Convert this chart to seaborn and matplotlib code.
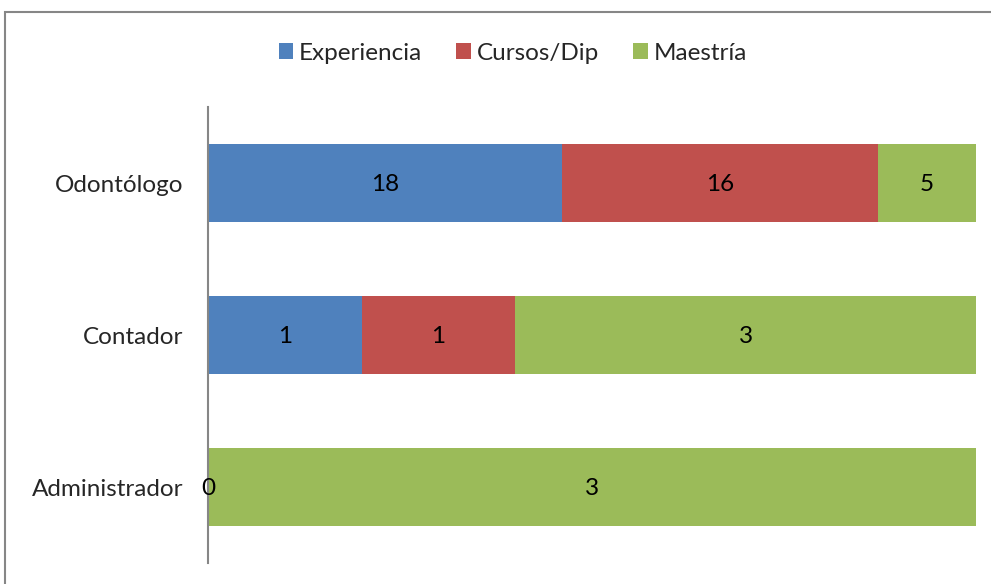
import numpy as np
import pandas as pd
import seaborn as sns
import matplotlib.pyplot as plt
from matplotlib.patches import Patch, Rectangle

categories = ["Odontólogo", "Contador", "Administrador"]
series_names = ["Experiencia", "Cursos/Dip", "Maestría"]
experiencia = [18, 1, 0]
cursos = [16, 1, 0]
maestria = [5, 3, 3]
colors = ["#4F81BD", "#C0504D", "#9BBB59"]

df = pd.DataFrame(
    {"puesto": categories, "Experiencia": experiencia, "Cursos/Dip": cursos, "Maestría": maestria}
)
totals = df[series_names].sum(axis=1)
shares = df[series_names].div(totals, axis=0)
cum = shares.cumsum(axis=1)

sns.set_style("white")
plt.rcParams["font.family"] = ["Lato", "DejaVu Sans"]
FS = 17.5

fig = plt.figure(figsize=(9.91, 5.84), dpi=100)
ax = fig.add_axes([208 / 991, 1 - 563 / 584, (976 - 208) / 991, (563 - 107) / 584])

# draw cumulative bars from the right-most series back to the first
for name, color in reversed(list(zip(series_names, colors))):
    sns.barplot(
        x=cum[name], y=df["puesto"], order=categories, orient="h",
        color=color, width=0.51, ax=ax, saturation=1, edgecolor="none",
    )

# segment labels
for i, cat in enumerate(categories):
    left = 0.0
    for name in series_names:
        w = shares.loc[i, name]
        val = df.loc[i, name]
        if val > 0 or name == "Experiencia":
            ax.text(left + w / 2, i + 0.01, str(val), ha="center", va="center", fontsize=FS, color="black")
        left += w

ax.set_xlim(0, 1)
ax.set_ylim(2.5, -0.5)
ax.set_xlabel("")
ax.set_ylabel("")
ax.set_xticks([])
for side in ["top", "right", "bottom"]:
    ax.spines[side].set_visible(False)
ax.spines["left"].set_color("#868686")
ax.spines["left"].set_linewidth(1.5)
ax.tick_params(axis="y", length=0, pad=18, labelsize=FS)

handles = [Patch(facecolor=c, edgecolor="none") for c in colors]
fig.legend(
    handles, series_names, loc="center", bbox_to_anchor=(513 / 991, 1 - 53 / 584),
    ncol=3, frameon=False, fontsize=FS, handlelength=0.6, handleheight=0.6,
    handletextpad=0.25, columnspacing=1.4,
)

# outer chart frame (cut off at right and bottom in the reference)
fig.patches.append(
    Rectangle((5 / 991, -0.05), 1.1, 1 - 12 / 584 + 0.05, transform=fig.transFigure,
              fill=False, edgecolor="#868686", linewidth=1.5)
)

fig.savefig("out.png", dpi=100)
